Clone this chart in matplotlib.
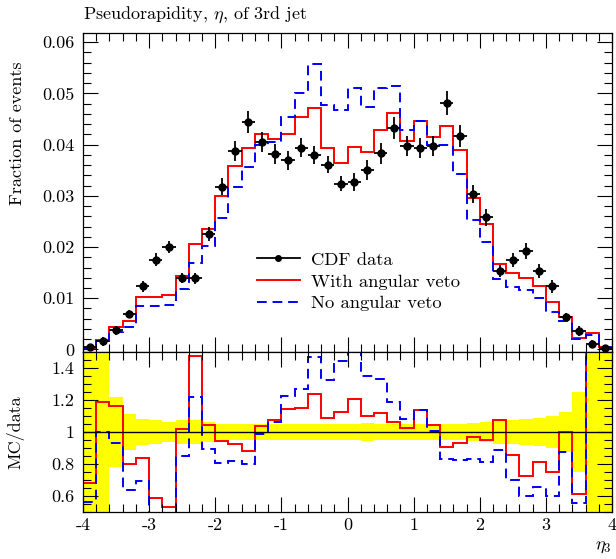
import numpy as np
import matplotlib
matplotlib.use("Agg")
import matplotlib.pyplot as plt
from matplotlib.lines import Line2D
from matplotlib.ticker import MultipleLocator, FuncFormatter

plt.rcParams['font.family'] = 'serif'
plt.rcParams['font.serif'] = ['cmr10']
plt.rcParams['mathtext.fontset'] = 'cm'
plt.rcParams['axes.unicode_minus'] = False
plt.rcParams['axes.formatter.use_mathtext'] = True

# 40 bins in eta_3, from -4 to 4
edges = np.linspace(-4, 4, 41)
centers = 0.5 * (edges[:-1] + edges[1:])

# CDF data
data = [0.0005, 0.0016, 0.0037, 0.0069, 0.0123, 0.0175, 0.0200, 0.0140, 0.0139, 0.0226,
        0.0318, 0.0388, 0.0445, 0.0405, 0.0382, 0.0369, 0.0394, 0.0380, 0.0361, 0.0324,
        0.0327, 0.0350, 0.0383, 0.0433, 0.0397, 0.0393, 0.0397, 0.0481, 0.0417, 0.0304,
        0.0258, 0.0154, 0.0175, 0.0193, 0.0153, 0.0123, 0.0063, 0.0036, 0.0011, 0.0003]
# relative data uncertainty (yellow band)
data_relerr = [0.60, 0.56, 0.22, 0.115, 0.083, 0.074, 0.063, 0.073, 0.075, 0.060,
               0.052, 0.050, 0.048, 0.050, 0.050, 0.050, 0.048, 0.047, 0.047, 0.047,
               0.052, 0.055, 0.052, 0.050, 0.050, 0.050, 0.050, 0.048, 0.050, 0.057,
               0.063, 0.076, 0.076, 0.080, 0.086, 0.102, 0.125, 0.247, 0.60, 0.70]
# MC with angular veto
veto = [0.00034, 0.0019, 0.0043, 0.0055, 0.0103, 0.0103, 0.0106, 0.0143, 0.0205, 0.0236,
        0.0300, 0.0358, 0.0393, 0.0420, 0.0411, 0.0421, 0.0453, 0.0471, 0.0393, 0.0365,
        0.0395, 0.0385, 0.0429, 0.0461, 0.0408, 0.0446, 0.0414, 0.0437, 0.0389, 0.0295,
        0.0245, 0.0166, 0.0150, 0.0140, 0.0124, 0.0092, 0.0063, 0.0022, 0.0033, 0.0005]
# MC without angular veto
noveto = [0.00028, 0.0016, 0.00345, 0.0044, 0.0085, 0.0084, 0.0087, 0.0119, 0.0169, 0.0202,
          0.0257, 0.0317, 0.0357, 0.0400, 0.0405, 0.0453, 0.0501, 0.0557, 0.0478, 0.0468,
          0.0510, 0.0473, 0.0510, 0.0515, 0.0429, 0.0447, 0.0400, 0.0400, 0.0343, 0.0252,
          0.0210, 0.0137, 0.0122, 0.0116, 0.0100, 0.0074, 0.0055, 0.0020, 0.0029, 0.0005]

data = np.array(data)
rel = np.array(data_relerr)
err = data * rel

fs = 13
fig = plt.figure(figsize=(6.16, 5.59), dpi=100)
ax = fig.add_axes([83/616, 1-352/559, 529/616, 319/559])
rax = fig.add_axes([83/616, 1-512/559, 529/616, 160/559], sharex=ax)

# main panel
ax.stairs(veto, edges, color='red', lw=1.4, baseline=None)
ax.stairs(noveto, edges, color='blue', lw=1.4, ls=(0, (5, 3)), baseline=None)
ax.errorbar(centers, data, yerr=err, xerr=0.1, fmt='o', color='k', ms=5, lw=1.3, capsize=0)
ax.set_xlim(-4, 4)
ax.set_ylim(-0.0005, 0.0618)
ax.set_ylabel('Fraction of events', fontsize=fs, loc='top')
ax.yaxis.set_label_coords(-0.11, 0.91)
ax.text(0, 1.025, r'Pseudorapidity, $\eta$, of 3rd jet', transform=ax.transAxes,
        fontsize=fs, ha='left', va='bottom')

handles = [Line2D([], [], color='k', marker='o', ms=4, lw=1.3),
           Line2D([], [], color='red', lw=1.4),
           Line2D([], [], color='blue', lw=1.4, ls=(0, (5, 3)))]
labels = ['CDF data', 'With angular veto', 'No angular veto']
ax.legend(handles, labels, loc='center left', bbox_to_anchor=(0.329, 0.221), frameon=False,
          fontsize=13.4, handlelength=2.3, handletextpad=0.6, labelspacing=0.3,
          borderpad=0, borderaxespad=0)

# ratio panel
rax.stairs(1 + rel, edges, baseline=1 - rel, fill=True, color='yellow', lw=0)
rax.axhline(1, color='k', lw=1)
rax.stairs(np.array(veto) / data, edges, color='red', lw=1.4, baseline=None)
rax.stairs(np.array(noveto) / data, edges, color='blue', lw=1.4, ls=(0, (5, 3)), baseline=None)
rax.set_ylim(0.5, 1.5)
rax.set_ylabel('MC/data', fontsize=fs)
rax.yaxis.set_label_coords(-0.11, 0.5)
rax.set_xlabel(r'$\eta_3$', fontsize=fs, loc='right', labelpad=5)

fmt = FuncFormatter(lambda v, p: '%g' % (round(v, 6) + 0.0))
for a in (ax, rax):
    a.tick_params(which='both', direction='in', top=True, right=True, width=0.8, labelsize=fs)
    a.tick_params(which='major', length=11)
    a.tick_params(which='minor', length=5.5)
    a.tick_params(axis='y', pad=6)
    a.tick_params(axis='x', pad=4)
    a.xaxis.set_major_locator(MultipleLocator(1))
    a.xaxis.set_minor_locator(MultipleLocator(0.2))
    a.xaxis.set_major_formatter(fmt)
    a.yaxis.set_major_formatter(fmt)
    for s in a.spines.values():
        s.set_linewidth(0.9)
ax.yaxis.set_major_locator(MultipleLocator(0.01))
ax.yaxis.set_minor_locator(MultipleLocator(0.002))
rax.yaxis.set_major_locator(MultipleLocator(0.2))
rax.yaxis.set_minor_locator(MultipleLocator(0.05))
ax.tick_params(labelbottom=False)

fig.savefig('out.png', dpi=100)
